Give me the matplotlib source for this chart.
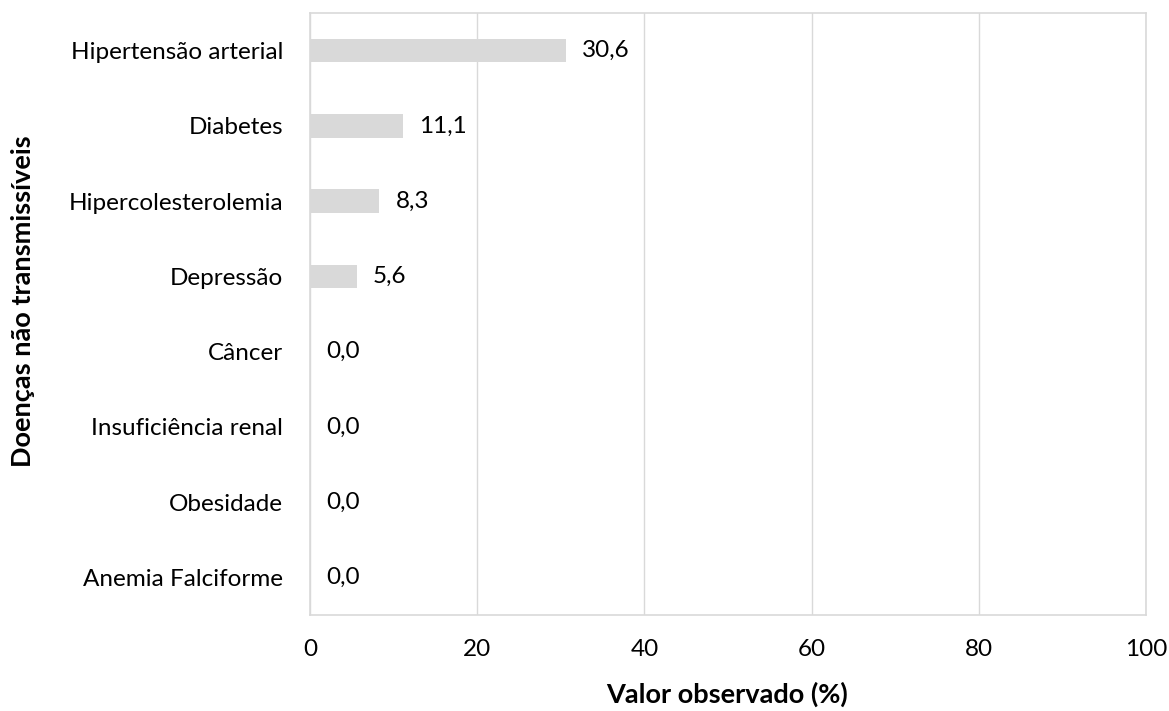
import matplotlib
matplotlib.use("Agg")
import matplotlib.pyplot as plt

categories = ["Hipertensão arterial", "Diabetes", "Hipercolesterolemia", "Depressão",
              "Câncer", "Insuficiência renal", "Obesidade", "Anemia Falciforme"]
values = [30.6, 11.1, 8.3, 5.6, 0.0, 0.0, 0.0, 0.0]
xticks = [0, 20, 40, 60, 80, 100]

plt.rcParams['font.family'] = ['Lato', 'DejaVu Sans']

W, H = 1169, 711
fig = plt.figure(figsize=(W / 100, H / 100), dpi=100)
ax = fig.add_axes([310 / W, 1 - 615 / H, (1146 - 310) / W, (615 - 13) / H])

grey = "#d9d9d9"
pos = list(range(len(categories)))
ax.barh(pos, values, height=0.31, color=grey, zorder=2)
ax.set_ylim(len(categories) - 0.5, -0.5)
ax.set_xlim(0, 100)
ax.set_xticks(xticks)
ax.set_xticklabels([str(t) for t in xticks])
ax.set_yticks(pos)
ax.set_yticklabels(categories)
ax.tick_params(axis='both', length=0, labelsize=17.5, colors="#000000")
ax.tick_params(axis='x', pad=17)
ax.tick_params(axis='y', pad=19.5)
ax.grid(axis='x', color=grey, linewidth=1, zorder=0)
for s in ax.spines.values():
    s.set_color(grey)
    s.set_linewidth(1.2)

for p, v in zip(pos, values):
    ax.annotate(f"{v:.1f}".replace(".", ","), (v, p), xytext=(16, 0),
                textcoords="offset pixels", va="center", ha="left", fontsize=17.5)

fig.text(727 / W, 1 - 694 / H, "Valor observado (%)", ha="center", va="center",
         fontsize=19.5, fontweight="bold")
fig.text(23 / W, 1 - 301 / H, "Doenças não transmissíveis", ha="center", va="center",
         rotation=90, fontsize=19.5, fontweight="bold")

fig.savefig("out.png", dpi=100)
